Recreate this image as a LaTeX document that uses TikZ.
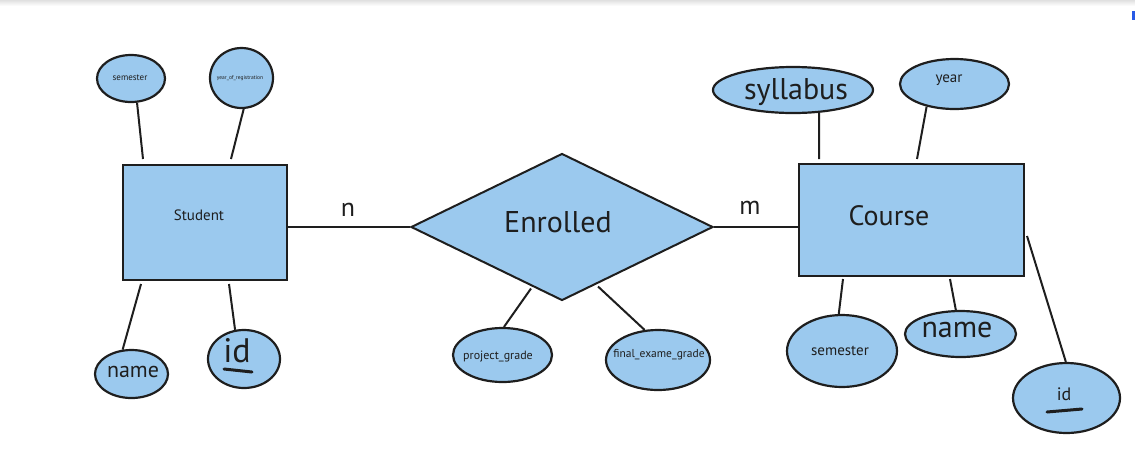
\documentclass[tikz,border=0pt]{standalone}
\usepackage{fontspec}
\setmainfont{PT Sans}
\usetikzlibrary{shapes.geometric,calc}
\definecolor{erfill}{RGB}{155,201,238}
\definecolor{erline}{RGB}{30,30,30}
\definecolor{dotblue}{RGB}{40,90,230}
\tikzset{
  ent/.style={draw=erline, fill=erfill, line width=2pt, rectangle, inner sep=0pt},
  attr/.style={draw=erline, fill=erfill, line width=2.2pt, ellipse, inner sep=0pt},
  relship/.style={draw=erline, fill=erfill, line width=2pt, diamond, inner sep=0pt},
  conn/.style={draw=erline, line width=2pt},
  ul/.style={draw=erline, line width=3pt, line cap=round},
  txt/.style={inner sep=0pt, text=erline},
}
\newcommand{\fs}[1]{\fontsize{#1}{#1}\selectfont}
\begin{document}
\begin{tikzpicture}[x=1pt,y=-1pt]
\useasboundingbox (0,0) rectangle (1135,459);
\shade[top color=black!12, bottom color=white] (0,0) rectangle (1135,6);
\fill[dotblue] (1132,11) rectangle (1135,20);

% entities and relationship
\node[ent, minimum width=164pt, minimum height=115pt] (stu) at (205,222.5) {};
\node[txt, font=\fs{15}] (stuT) at (199,215) {Student};
\node[ent, minimum width=225pt, minimum height=112pt] (crs) at (911.5,220) {};
\node[txt, font=\fs{28}] (crsT) at (889,216) {Course};
\node[relship, minimum width=302pt, minimum height=147pt] (enr) at (562,227) {};
\node[txt, font=\fs{30}] (enrT) at (558,222) {Enrolled};

% attributes
\node[attr, minimum width=68pt, minimum height=47pt] (sem) at (131,78.5) {};
\node[txt, font=\fs{9}] at (130,78) {semester};
\node[attr, minimum width=63pt, minimum height=60pt] (yor) at (241.5,78) {};
\node[txt, font=\fs{5.5}] at (240,78) {year\_of\_registration};
\node[attr, minimum width=73pt, minimum height=48pt] (nameL) at (131.5,374) {};
\node[txt, font=\fs{22}] at (133,372) {name};
\node[attr, minimum width=72pt, minimum height=58pt] (idL) at (244,359) {};
\node[txt, font=\fs{34}] (idLT) at (237,351) {id};
\draw[ul] (224,369) -- (252,372);

\node[attr, minimum width=160pt, minimum height=46pt] (syl) at (793,90) {};
\node[txt, font=\fs{30}] at (796,92) {syllabus};
\node[attr, minimum width=109pt, minimum height=50pt] (year) at (954.5,84) {};
\node[txt, font=\fs{15}] at (949,80) {year};
\node[attr, minimum width=110pt, minimum height=72pt] (semR) at (842,351) {};
\node[txt, font=\fs{15}] at (840,351) {semester};
\node[attr, minimum width=111pt, minimum height=46pt] (nameR) at (960.5,334) {};
\node[txt, font=\fs{30}] at (957,330) {name};
\node[attr, minimum width=107pt, minimum height=70pt] (idR) at (1066.5,398) {};
\node[txt, font=\fs{18}] (idRT) at (1064,394) {id};
\draw[ul] (1047,412) -- (1082,409);

\node[attr, minimum width=99pt, minimum height=54pt] (proj) at (502.5,355) {};
\node[txt, font=\fs{12}] at (498,357) {project\_grade};
\node[attr, minimum width=104pt, minimum height=60pt] (final) at (658,360) {};
\node[txt, font=\fs{11.5}] at (659,355) {final\_exame\_grade};

% connectors
\draw[conn] (stu.east |- enr.west) -- (enr.west);
\draw[conn] (enr.east) -- (crs.west |- enr.east);
\node[txt, font=\fs{26}] at (348,210) {n};
\node[txt, font=\fs{26}] at (750,208) {m};

\draw[conn] (sem.-76) -- ($(stu.north west)+(21,-5)$);
\draw[conn] (yor.-86) -- ($(stu.north west)+(109,-5)$);
\draw[conn] ($(stu.south west)+(19,3)$) -- (nameL.110);
\draw[conn] ($(stu.south west)+(107,3)$) -- (idL.107);

\draw[conn] (syl.-41) -- ($(crs.north west)+(21,-4)$);
\draw[conn] (year.-141) -- ($(crs.north west)+(119,-4)$);
\draw[conn] ($(crs.south west)+(45,2)$) -- (semR.95);
\draw[conn] ($(crs.south west)+(152,2)$) -- (nameR.101);
\draw[conn] ($(crs.north east)+(2,73)$) -- (idR.91);

\draw[conn] ($(enr.south)+(-31,-13)$) -- (proj.87);
\draw[conn] ($(enr.south)+(36,-15)$) -- (final.114);
\end{tikzpicture}
\end{document}
